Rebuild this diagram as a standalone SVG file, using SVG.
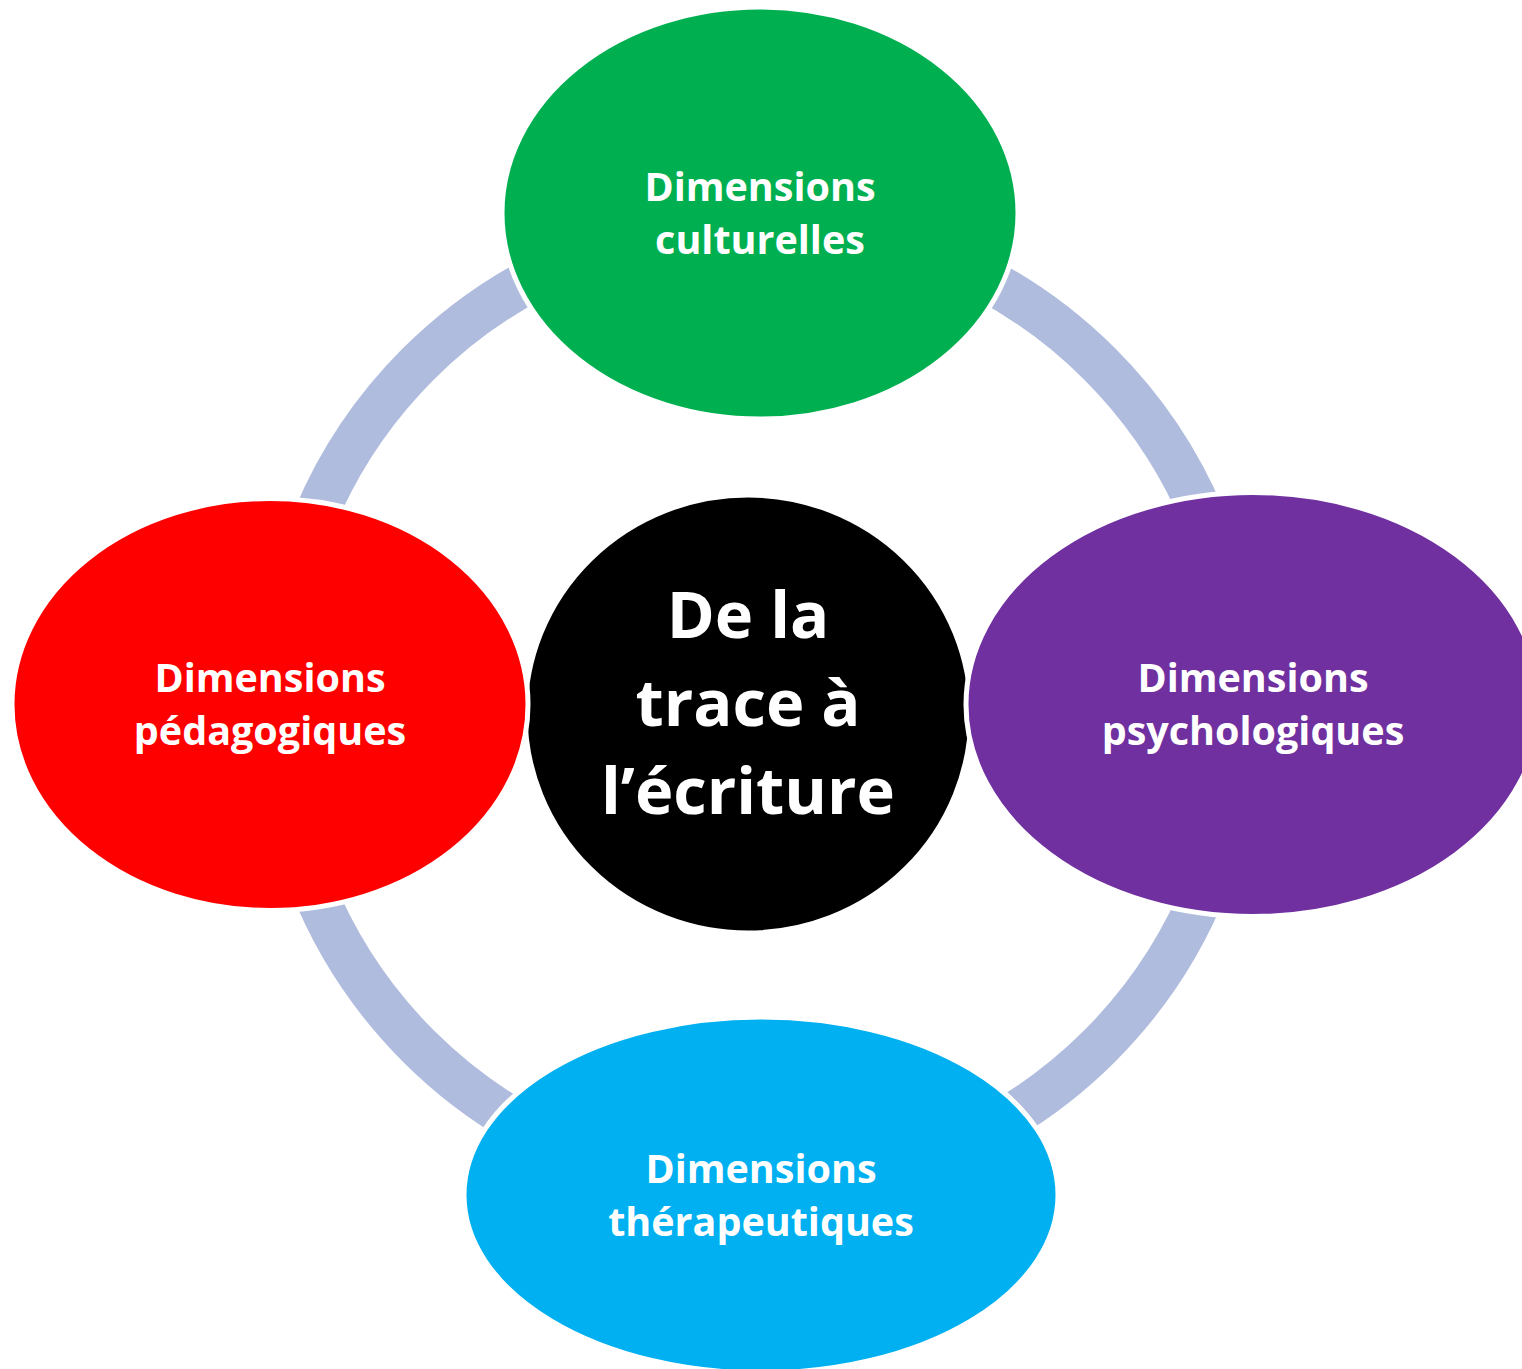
<svg xmlns="http://www.w3.org/2000/svg" width="1522" height="1369" viewBox="0 0 1522 1369">
<style>
.node { stroke: #FFFFFF; stroke-width: 5; }
.lbl { font-family: "Open Sans", "Liberation Sans", sans-serif; font-weight: 700; font-size: 39.5px; fill: #FFFFFF; text-anchor: middle; }
.big { font-family: "Open Sans", "Liberation Sans", sans-serif; font-weight: 700; font-size: 65px; fill: #FFFFFF; text-anchor: middle; }
</style>
<rect width="1522" height="1369" fill="#FFFFFF"/>
<g id="connectors">
<circle cx="759" cy="705" r="482" fill="none" stroke="#AFBCDE" stroke-width="44"/>
</g>
<g id="center">
<ellipse cx="748" cy="714" rx="223" ry="219" fill="#000000" class="node"/>
<text class="big" x="748" y="638">De la</text>
<text class="big" x="748" y="726">trace à</text>
<text class="big" x="748" y="814">l’écriture</text>
</g>
<g id="culturelles">
<ellipse cx="760" cy="213" rx="258" ry="206" fill="#00B050" class="node"/>
<text class="lbl" x="760" y="201">Dimensions</text>
<text class="lbl" x="760" y="254">culturelles</text>
</g>
<g id="psychologiques">
<ellipse cx="1253" cy="704.5" rx="287" ry="212" fill="#7030A0" class="node"/>
<text class="lbl" x="1253" y="692">Dimensions</text>
<text class="lbl" x="1253" y="745">psychologiques</text>
</g>
<g id="therapeutiques">
<ellipse cx="761" cy="1195" rx="297" ry="178" fill="#00B0F0" class="node"/>
<text class="lbl" x="761" y="1183">Dimensions</text>
<text class="lbl" x="761" y="1236">thérapeutiques</text>
</g>
<g id="pedagogiques">
<ellipse cx="270" cy="704.5" rx="258" ry="206" fill="#FF0000" class="node"/>
<text class="lbl" x="270" y="692">Dimensions</text>
<text class="lbl" x="270" y="745">pédagogiques</text>
</g>
</svg>
